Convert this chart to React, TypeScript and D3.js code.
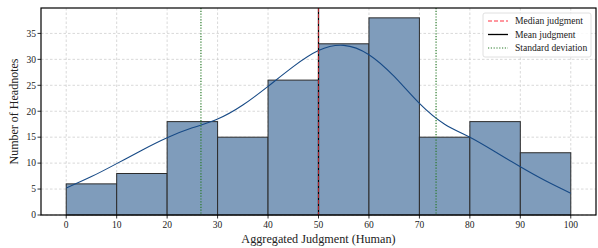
import React from 'react';
import * as d3 from 'd3';

const binStarts = [0, 10, 20, 30, 40, 50, 60, 70, 80, 90];
const binCounts = [6, 8, 18, 15, 26, 33, 38, 15, 18, 12];
const kdeX = [0, 5, 10, 15, 20, 25, 30, 35, 40, 45, 50, 55, 60, 65, 70, 75, 80, 85, 90, 95, 100];
const kdeY = [5.2, 7.4, 9.9, 12.5, 14.9, 16.8, 18.5, 21.2, 24.8, 28.6, 31.7, 32.7, 30.9, 26.7, 21.5, 17.5, 15.0, 12.2, 9.3, 6.6, 4.2];
const meanValue = 50;
const medianValue = 50;
const stdValue = 23.3;
const xTicks = [0, 10, 20, 30, 40, 50, 60, 70, 80, 90, 100];
const yTicks = [0, 5, 10, 15, 20, 25, 30, 35];

const W = 598;
const H = 248;
const M = { left: 41, right: 2, top: 8, bottom: 33 };

const App: React.FC = () => {
  const x = d3.scaleLinear().domain([-5, 105]).range([M.left, W - M.right]);
  const y = d3.scaleLinear().domain([0, 39.9]).range([H - M.bottom, M.top]);
  const font = '"Liberation Serif", "DejaVu Serif", serif';

  const line = d3.line<number>()
    .x((_, i) => x(kdeX[i]))
    .y(d => y(d))
    .curve(d3.curveNatural);

  const top = M.top;
  const bottom = H - M.bottom;

  return (
    <div style={{ position: 'fixed', left: 0, top: 0 }}>
      <svg width={W} height={H} style={{ display: 'block', background: '#fff' }} fontFamily={font}>
        {/* grid */}
        {xTicks.map(t => (
          <line key={'gx' + t} x1={x(t)} x2={x(t)} y1={top} y2={bottom}
            stroke="#c8c8c8" strokeWidth={0.7} strokeDasharray="2.5,2" />
        ))}
        {yTicks.map(t => (
          <line key={'gy' + t} x1={M.left} x2={W - M.right} y1={y(t)} y2={y(t)}
            stroke="#c8c8c8" strokeWidth={0.7} strokeDasharray="2.5,2" />
        ))}

        {/* bars */}
        {binStarts.map((s, i) => (
          <rect key={'b' + s} x={x(s)} y={y(binCounts[i])}
            width={x(s + 10) - x(s)} height={bottom - y(binCounts[i])}
            fill="#7f9cbb" stroke="#2b2b2b" strokeWidth={1} />
        ))}

        {/* kde */}
        <path d={line(kdeY) || ''} fill="none" stroke="#174a86" strokeWidth={1.1} />

        {/* std lines */}
        {[meanValue - stdValue, meanValue + stdValue].map((v, i) => (
          <line key={'sd' + i} x1={x(v)} x2={x(v)} y1={top} y2={bottom}
            stroke="#2a7a2a" strokeWidth={1.2} strokeDasharray="1.2,1.6" />
        ))}
        {/* mean */}
        <line x1={x(meanValue)} x2={x(meanValue)} y1={top} y2={bottom} stroke="#000" strokeWidth={1.3} />
        {/* median */}
        <line x1={x(medianValue)} x2={x(medianValue)} y1={top} y2={bottom}
          stroke="#e8303a" strokeWidth={1.1} strokeDasharray="4,2" opacity={0.75} />

        {/* frame */}
        <rect x={M.left} y={top} width={W - M.right - M.left} height={bottom - top}
          fill="none" stroke="#000" strokeWidth={1.2} />

        {/* x ticks */}
        {xTicks.map(t => (
          <g key={'xt' + t}>
            <line x1={x(t)} x2={x(t)} y1={bottom} y2={bottom + 3.5} stroke="#000" strokeWidth={0.8} />
            <text x={x(t)} y={bottom + 13} textAnchor="middle" fontSize={9.5} fill="#222">{t}</text>
          </g>
        ))}
        {/* y ticks */}
        {yTicks.map(t => (
          <g key={'yt' + t}>
            <line x1={M.left - 3.5} x2={M.left} y1={y(t)} y2={y(t)} stroke="#000" strokeWidth={0.8} />
            <text x={M.left - 5} y={y(t) + 3.3} textAnchor="end" fontSize={9.5} fill="#222">{t}</text>
          </g>
        ))}

        {/* axis labels */}
        <text x={(M.left + W - M.right) / 2} y={H - 5} textAnchor="middle" fontSize={12.2} fill="#222">
          Aggregated Judgment (Human)
        </text>
        <text transform={`translate(18,${(top + bottom) / 2}) rotate(-90)`} textAnchor="middle" fontSize={12} fill="#222">
          Number of Headnotes
        </text>

        {/* legend */}
        <g transform="translate(483,13)">
          <rect x={0} y={0} width={108} height={44} rx={2} fill="#fff" fillOpacity={0.85} stroke="#d8d8d8" strokeWidth={0.8} />
          <line x1={5} x2={25} y1={8} y2={8} stroke="#ff3040" strokeWidth={1.2} strokeDasharray="4,2" />
          <text x={32} y={11.2} fontSize={9.6} fill="#222">Median judgment</text>
          <line x1={5} x2={25} y1={21.5} y2={21.5} stroke="#000" strokeWidth={1.3} />
          <text x={32} y={24.7} fontSize={9.6} fill="#222">Mean judgment</text>
          <line x1={5} x2={25} y1={35} y2={35} stroke="#2a7a2a" strokeWidth={1.2} strokeDasharray="1.2,1.6" />
          <text x={32} y={38.2} fontSize={9.6} fill="#222">Standard deviation</text>
        </g>
      </svg>
    </div>
  );
};

export default App;
